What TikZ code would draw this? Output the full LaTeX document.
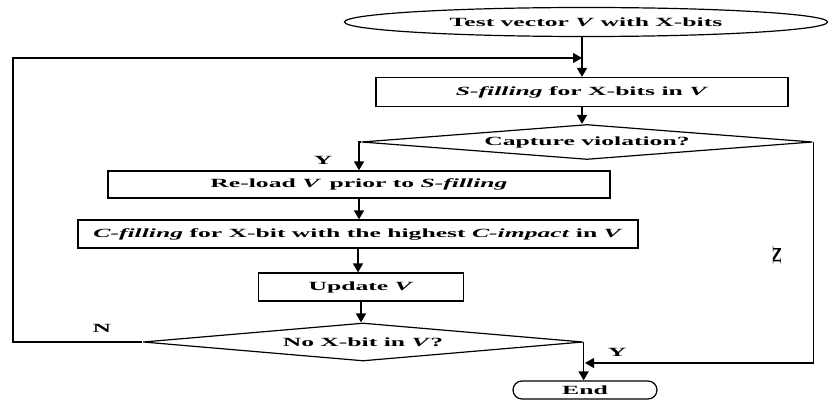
\documentclass[tikz,border=0pt]{standalone}
\usepackage{fontspec}
\setmainfont{Liberation Serif}[FakeStretch=2.05]
\usetikzlibrary{arrows.meta,shapes.geometric}

\begin{document}
\begin{tikzpicture}[x=1pt,y=-1pt,>={Triangle[width=10pt,length=9pt]},
    font=\fontsize{12.5}{14}\selectfont\bfseries,
    box/.style={draw,line width=1.3pt,inner sep=0pt},
    cond/.style={draw,diamond,line width=1.2pt,inner sep=0pt,aspect=12},
    term/.style={draw,line width=1.2pt,inner sep=0pt},
    flow/.style={->,line width=1.7pt},
    back/.style={->,line width=1.1pt},
    lbl/.style={inner sep=0pt}]
    \useasboundingbox (0,0) rectangle (832,401);
    \node[term,ellipse,minimum width=483pt,minimum height=29pt] (start) at (586,22) {Test vector \textit{V} with X-bits};
    \node[box,minimum width=412pt,minimum height=29pt] (sfill) at (582,92) {\textit{S-filling} for X-bits in \textit{V}};
    \node[cond,minimum width=451pt,minimum height=35pt] (capt) at (587,142) {Capture violation?};
    \node[box,minimum width=502pt,minimum height=27pt] (reload) at (359,184.5) {Re-load \textit{V}\, prior to \textit{S-filling}};
    \node[box,minimum width=560pt,minimum height=28pt] (cfill) at (358,234) {\textit{C-filling} for X-bit with the highest \textit{C-impact} in \textit{V}};
    \node[box,minimum width=205pt,minimum height=28pt] (upd) at (361,287) {Update \textit{V}};
    \node[cond,minimum width=440pt,minimum height=38pt] (nox) at (363,342) {No X-bit in \textit{V}?};
    \node[term,rounded corners=9pt,minimum width=144pt,minimum height=18pt] (end) at (585,390) {End};
    \coordinate (j1) at (582,58);
    \coordinate (lft) at (13,342);
    \coordinate (j2) at (585,363);
    \draw[flow] (sfill.north |- start.south) -- (sfill.north);
    \draw[flow] (sfill.south) -- (sfill.south |- capt.north);
    \draw[flow] (capt.west) -| (reload.north);
    \draw[flow] (reload.south) -- (reload.south |- cfill.north);
    \draw[flow] (cfill.south) -- (cfill.south |- upd.north);
    \draw[flow] (upd.south) -- (upd.south |- nox.north);
    \draw[flow] (nox.east) -- (nox.east |- end.north);
    \draw[back] (nox.west) -- (lft) |- (j1);
    \draw[back] (capt.east) |- (j2);
    \node[lbl] (y1) at (323,160) {Y};
    \node[lbl] (y2) at (617,352) {Y};
    \node[lbl] (n1) at (102,328) {N};
    \node[lbl,rotate=90] (n2) at (777,255) {N};
\end{tikzpicture}
\end{document}
